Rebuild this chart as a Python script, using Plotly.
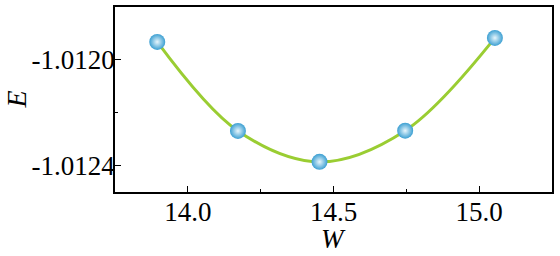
import plotly.graph_objects as go

W = [13.895, 14.172, 14.452, 14.746, 15.054]
E = [-1.011932, -1.012269, -1.012386, -1.012268, -1.011917]

y_tickvals = [-1.0120, -1.0124]
y_ticktext = ["-1.0120", "-1.0124"]
x_tickvals = [14.0, 14.5, 15.0]
x_ticktext = ["14.0", "14.5", "15.0"]
x_title = "<i>W</i>"
y_title = "<i>E</i>"

font_family = "Liberation Serif"

fig = go.Figure()
fig.add_trace(go.Scatter(
    x=W, y=E, mode="lines",
    line=dict(color="#9acd32", width=3, shape="spline", smoothing=1.0),
    hoverinfo="skip", showlegend=False,
))
fig.add_trace(go.Scatter(
    x=W, y=E, mode="markers",
    marker=dict(size=16, color="#3b9fd2",
                gradient=dict(type="radial", color="#e8f6fc"),
                line=dict(width=0)),
    showlegend=False,
))

axis_common = dict(
    showline=True, linecolor="black", linewidth=1.5, mirror=True,
    ticks="inside", ticklen=6, tickwidth=1.2, tickcolor="black",
    showgrid=False, zeroline=False, automargin=False,
    tickfont=dict(family=font_family, size=27, color="black"),
)

fig.update_xaxes(
    range=[13.75, 15.25], tickmode="array", tickvals=x_tickvals, ticktext=x_ticktext,
    minor=dict(ticks="inside", ticklen=3, tickwidth=1.2, tickcolor="black", dtick=0.25, tick0=14.0, showgrid=False),
    ticklabelstandoff=-5,
    **axis_common,
)
fig.update_yaxes(
    range=[-1.0125, -1.0118], tickmode="array", tickvals=y_tickvals, ticktext=y_ticktext,
    minor=dict(ticks="inside", ticklen=3, tickwidth=1.2, tickcolor="black", dtick=0.0002, tick0=-1.0120, showgrid=False),
    ticklabelstandoff=-7,
    **axis_common,
)

fig.add_annotation(text=x_title, xref="paper", yref="paper", x=0.5, y=-0.255,
                   xanchor="center", yanchor="middle", showarrow=False,
                   font=dict(family=font_family, size=27, color="black"))
fig.add_annotation(text=y_title, xref="paper", yref="paper", x=-0.2265, y=0.5,
                   xanchor="center", yanchor="middle", showarrow=False, textangle=-90,
                   font=dict(family=font_family, size=28, color="black"))

fig.update_layout(
    width=560, height=256,
    margin=dict(l=115, r=8, t=7, b=64),
    plot_bgcolor="white", paper_bgcolor="white",
)

fig.write_html("out.html")
